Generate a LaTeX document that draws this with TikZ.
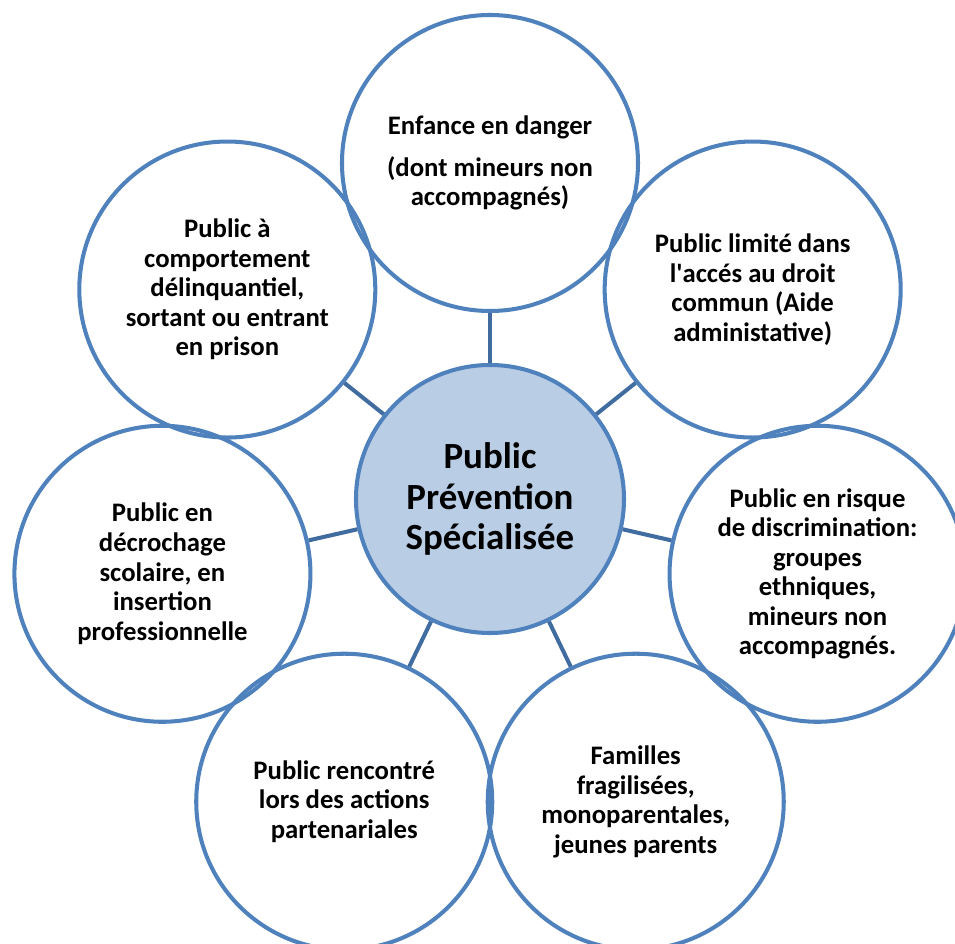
\documentclass[tikz,border=0pt]{standalone}
\usepackage{fontspec}
\setmainfont{Carlito}
\definecolor{ringblue}{RGB}{79,129,189}
\definecolor{spokeblue}{RGB}{65,108,160}
\definecolor{hubfill}{RGB}{185,205,229}
\tikzset{
  hub/.style={circle,draw=ringblue,fill=hubfill,line width=1.15pt,minimum size=2.68cm,
    inner sep=0pt,align=center,font=\fontsize{10.5}{11.4}\selectfont\bfseries},
  ring/.style={circle,draw=ringblue,line width=1.15pt,minimum size=2.96cm,
    inner sep=0pt,align=center,font=\fontsize{7.6}{8.4}\selectfont\bfseries},
  spoke/.style={line width=1.15pt,draw=spokeblue}
}
\begin{document}
\begin{tikzpicture}
  \useasboundingbox (-4.90,-4.45) rectangle (4.65,4.99);
  % outer publics, clockwise from the top
  \node[ring] (enfance) at (90:3.36) {Enfance en danger\\[3.5pt](dont mineurs non\\accompagnés)};
  \node[ring] (droit) at (38.57:3.36) {Public limité dans\\l\textquotesingle accés au droit\\commun (Aide\\administative)};
  \node[ring] (discrim) at (-12.86:3.36) {Public en risque\\de discrimination:\\groupes\\ethniques,\\mineurs non\\accompagnés.};
  \node[ring] (familles) at (-64.29:3.36) {Familles\\fragilisées,\\monoparentales,\\jeunes parents};
  \node[ring] (partenaires) at (-115.71:3.36) {Public rencontré\\lors des actions\\partenariales};
  \node[ring] (scolaire) at (-167.14:3.36) {Public en\\décrochage\\scolaire, en\\insertion\\professionnelle};
  \node[ring] (prison) at (141.43:3.36) {Public à\\comportement\\délinquantiel,\\sortant ou entrant\\en prison};
  % centre
  \node[hub] (centre) at (0,0) {Public\\Prévention\\Spécialisée};
  \draw[spoke] (centre) -- (enfance);
  \draw[spoke] (centre) -- (droit);
  \draw[spoke] (centre) -- (discrim);
  \draw[spoke] (centre) -- (familles);
  \draw[spoke] (centre) -- (partenaires);
  \draw[spoke] (centre) -- (scolaire);
  \draw[spoke] (centre) -- (prison);
\end{tikzpicture}
\end{document}
